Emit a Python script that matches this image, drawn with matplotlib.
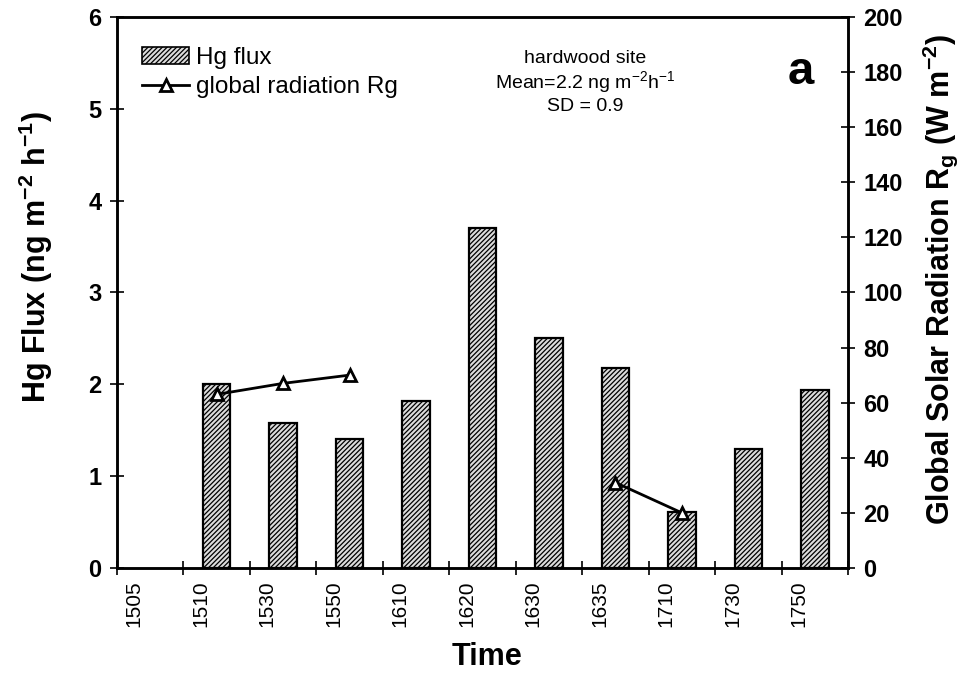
import numpy as np
import matplotlib
matplotlib.use('Agg')
import matplotlib.pyplot as plt
import matplotlib.transforms as mtransforms
from matplotlib.patches import Patch
from matplotlib.lines import Line2D

plt.rcParams['font.family'] = ['Liberation Sans', 'DejaVu Sans']
plt.rcParams['mathtext.fontset'] = 'custom'
plt.rcParams['mathtext.rm'] = 'Liberation Sans'
plt.rcParams['mathtext.bf'] = 'Liberation Sans:bold'
plt.rcParams['hatch.linewidth'] = 0.9

time_labels = ['1505', '1510', '1530', '1550', '1610', '1620',
               '1630', '1635', '1710', '1730', '1750']
# one slot per label; no flux value for 1505
hg_flux = [np.nan, 2.0, 1.58, 1.40, 1.82, 3.70, 2.50, 2.18, 0.61, 1.30, 1.94]
rg = [np.nan, 63, 67, 70, np.nan, np.nan, np.nan, 31, 20, np.nan, np.nan]

HATCH = '///////'
FACE = '#dcdcdc'

fig = plt.figure(figsize=(9.66, 6.75), dpi=100)
ax = fig.add_axes([0.121, 0.1585, 0.757, 0.8165])
ax2 = ax.twinx()

slots = np.arange(len(time_labels))
ax.bar(slots + 0.5, hg_flux, width=0.41, color=FACE, edgecolor='black',
       hatch=HATCH, linewidth=1.6, zorder=2)
ax2.plot(slots + 0.5, rg, color='black', lw=2, marker='^', ms=8,
         mfc='white', mec='black', mew=2, zorder=3)

ax.set_xlim(0, len(time_labels))
ax.set_ylim(0, 6)
ax2.set_ylim(0, 200)

# tick marks on slot boundaries, labels inside the slots (a bit left of centre)
ax.set_xticks(np.arange(len(time_labels) + 1))
ax.set_xticklabels([])
ax.set_xticks(slots + 0.5, minor=True)
ax.set_xticklabels(time_labels, minor=True, rotation=90, fontsize=15)
ax.tick_params(axis='x', which='minor', length=0, pad=9)
shift = mtransforms.ScaledTranslation(-0.16, 0, fig.dpi_scale_trans)
for lbl in ax.get_xticklabels(minor=True):
    lbl.set_transform(lbl.get_transform() + shift)

ax.set_yticks(range(0, 7))
ax.set_yticklabels([str(v) for v in range(0, 7)], fontsize=17, fontweight='bold')
ax2.set_yticks(range(0, 201, 20))
ax2.set_yticklabels([str(v) for v in range(0, 201, 20)], fontsize=17, fontweight='bold')

ax.tick_params(axis='x', which='major', direction='inout', length=10, width=1.2)
ax.tick_params(axis='y', direction='inout', length=10, width=1.2, pad=6)
ax2.tick_params(axis='y', direction='inout', length=10, width=1.2, pad=6)
for a in (ax, ax2):
    for s in a.spines.values():
        s.set_linewidth(1.8)

ax.text(0.506, -0.162, 'Time', transform=ax.transAxes, ha='center', va='center',
        fontsize=22, fontweight='bold')
ax.text(-0.111, 0.565, r'Hg Flux (ng m$^{\mathbf{-2}}$ h$^{\mathbf{-1}}$)',
        transform=ax.transAxes, rotation=90, ha='center', va='center',
        fontsize=22, fontweight='bold')
ax.text(1.126, 0.523, r'Global Solar Radiation R$_{\mathbf{g}}$ (W m$^{\mathbf{-2}}$)',
        transform=ax.transAxes, rotation=90, ha='center', va='center',
        fontsize=22, fontweight='bold')

handles = [Patch(facecolor=FACE, edgecolor='black', hatch=HATCH, linewidth=1.2),
           Line2D([], [], color='black', lw=2, marker='^', ms=8,
                  mfc='white', mec='black', mew=2)]
ax.legend(handles, ['Hg flux', 'global radiation Rg'], loc='upper left',
          bbox_to_anchor=(0.005, 0.985), frameon=False, fontsize=17.5,
          handlelength=1.9, handletextpad=0.3, labelspacing=0.3)

ax.text(0.64, 0.925, 'hardwood site', transform=ax.transAxes, ha='center',
        va='center', fontsize=14)
ax.text(0.64, 0.88, r'Mean=2.2 ng m$^{-2}$h$^{-1}$', transform=ax.transAxes,
        ha='center', va='center', fontsize=14)
ax.text(0.64, 0.837, 'SD = 0.9', transform=ax.transAxes, ha='center',
        va='center', fontsize=14)
ax.text(0.935, 0.90, 'a', transform=ax.transAxes, ha='center', va='center',
        fontsize=34, fontweight='bold')

fig.savefig('out.png', dpi=100)
